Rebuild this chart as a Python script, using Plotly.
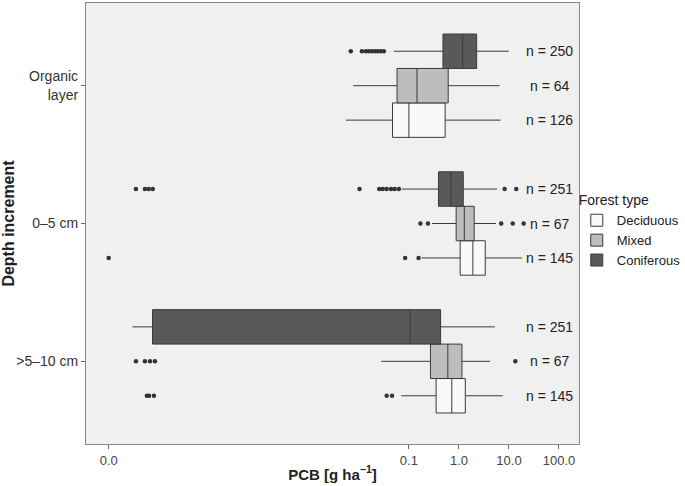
import plotly.graph_objects as go

# ---------------- data ----------------
depths = ["Organic layer", "0–5 cm", ">5–10 cm"]
depth_labels = ["Organic<br>layer", "0–5 cm", ">5–10 cm"]
forest_types = ["Deciduous", "Mixed", "Coniferous"]

# box statistics (g ha-1), order follows `depths`
dec_q1 = [0.047, 1.06, 0.35]
dec_med = [0.10, 1.9, 0.72]
dec_q3 = [0.53, 3.36, 1.34]
dec_lo = [0.0055, 0.18, 0.070]
dec_hi = [6.8, 18.2, 7.5]

mix_q1 = [0.058, 0.88, 0.27]
mix_med = [0.145, 1.28, 0.60]
mix_q3 = [0.61, 2.02, 1.15]
mix_lo = [0.0077, 0.29, 0.028]
mix_hi = [6.5, 5.5, 4.2]

con_q1 = [0.48, 0.39, 7.5e-7]
con_med = [1.19, 0.69, 0.106]
con_q3 = [2.26, 1.22, 0.43]
con_lo = [0.05, 0.072, 3.0e-7]
con_hi = [9.9, 5.75, 5.2]

# outliers (value, depth)
dec_out_x = [1.0e-7, 0.084, 0.156, 5.8e-7, 6.4e-7, 8.0e-7, 0.036, 0.046]
dec_out_y = ["0–5 cm", "0–5 cm", "0–5 cm", ">5–10 cm", ">5–10 cm", ">5–10 cm", ">5–10 cm", ">5–10 cm"]

mix_out_x = [0.17, 0.24, 7.0, 11.9, 19.7, 3.5e-7, 5.3e-7, 6.7e-7, 8.4e-7, 13.4]
mix_out_y = ["0–5 cm"] * 5 + [">5–10 cm"] * 5

con_out_x = [0.0069, 0.0115, 0.0138, 0.0158, 0.0182, 0.0209, 0.024, 0.0275, 0.0316,
             3.5e-7, 5.3e-7, 6.3e-7, 7.6e-7, 0.0103, 0.0255, 0.030, 0.036, 0.044, 0.052, 0.063,
             8.2, 14.0]
con_out_y = ["Organic layer"] * 9 + ["0–5 cm"] * 13

n_dec = [126, 145, 145]
n_mix = [64, 67, 67]
n_con = [250, 251, 251]

tick_vals = [1e-7, 0.1, 1, 10, 100]
tick_text = ["0.0", "0.1", "1.0", "10.0", "100.0"]

# ---------------- styling ----------------
fills = {"Deciduous": "#f9f9f9", "Mixed": "#bdbdbd", "Coniferous": "#595959"}
edge = "#3a3a3a"
FONT = "Liberation Sans, Arial, sans-serif"

W, H = 685, 486
ML, MR, MT, MB = 86, 106, 3, 42

stats = {
    "Deciduous": (dec_q1, dec_med, dec_q3, dec_lo, dec_hi, dec_out_x, dec_out_y, n_dec),
    "Mixed": (mix_q1, mix_med, mix_q3, mix_lo, mix_hi, mix_out_x, mix_out_y, n_mix),
    "Coniferous": (con_q1, con_med, con_q3, con_lo, con_hi, con_out_x, con_out_y, n_con),
}

fig = go.Figure()
for ft in forest_types:
    q1, med, q3, lo, hi, ox, oy, n = stats[ft]
    fig.add_trace(go.Box(
        name=ft, orientation="h", y=depths,
        q1=q1, median=med, q3=q3, lowerfence=lo, upperfence=hi,
        boxpoints=False, fillcolor=fills[ft],
        line=dict(color=edge, width=1), whiskerwidth=0,
        offsetgroup=ft, alignmentgroup="all", legendgroup=ft,
        hoverinfo="skip",
    ))
for ft in forest_types:
    q1, med, q3, lo, hi, ox, oy, n = stats[ft]
    fig.add_trace(go.Box(
        name=ft + " outliers", orientation="h", x=ox, y=oy,
        boxpoints="all", jitter=0, pointpos=0,
        fillcolor="rgba(0,0,0,0)", line=dict(color="rgba(0,0,0,0)", width=0),
        marker=dict(color="#333333", size=4.5),
        offsetgroup=ft, alignmentgroup="all", legendgroup=ft,
        showlegend=False, hoverinfo="skip",
    ))

# n labels
unit_px = (H - MT - MB) / 3.2
row_shift = {"Deciduous": -0.25 * unit_px, "Mixed": 0.0, "Coniferous": 0.25 * unit_px}
for ft in forest_types:
    n = stats[ft][7]
    for d, nv in zip(depths, n):
        fig.add_annotation(x=1.82, y=d, xref="x", yref="y", text=f"n = {nv}",
                           showarrow=False, yshift=row_shift[ft],
                           font=dict(family=FONT, size=14, color="#222"))

fig.update_layout(
    width=W, height=H,
    margin=dict(l=ML, r=MR, t=MT, b=MB, autoexpand=False),
    paper_bgcolor="white", plot_bgcolor="#f0f0f0",
    boxmode="group", boxgap=0.25, boxgroupgap=0,
    font=dict(family=FONT, size=13, color="#333"),
    showlegend=True,
    legend=dict(title=dict(text="Forest type", font=dict(size=14, color="#222")),
                font=dict(size=13, color="#222"), traceorder="normal",
                xref="container", yref="container",
                x=0.842, xanchor="left", y=0.615, yanchor="top",
                bgcolor="rgba(0,0,0,0)", itemwidth=30, tracegroupgap=0),
)
fig.update_xaxes(
    type="log", range=[-7.454, 2.4], automargin=False,
    tickvals=tick_vals, ticktext=tick_text,
    showgrid=False, zeroline=False,
    ticks="outside", ticklen=4, tickcolor="#666",
    tickfont=dict(size=13, color="#444"),
    showline=True, linecolor="#888", linewidth=1.2, mirror=True,
    title=dict(text="<b>PCB [g ha<sup>−1</sup>]</b>", font=dict(size=15, color="#222"), standoff=2),
)
fig.update_yaxes(
    type="category", categoryorder="array", categoryarray=depths[::-1],
    tickvals=depths, ticktext=depth_labels, automargin=False,
    range=[-0.6, 2.6],
    showgrid=False, zeroline=False,
    ticks="outside", ticklen=4, tickcolor="#666",
    tickfont=dict(size=14, color="#333"),
    showline=True, linecolor="#888", linewidth=1.2, mirror=True,
    title=dict(text="<b>Depth increment</b>", font=dict(size=16, color="#222"), standoff=6),
)

fig.write_html("out.html", config={"displayModeBar": False},
               post_script="document.body.style.margin='0';")
